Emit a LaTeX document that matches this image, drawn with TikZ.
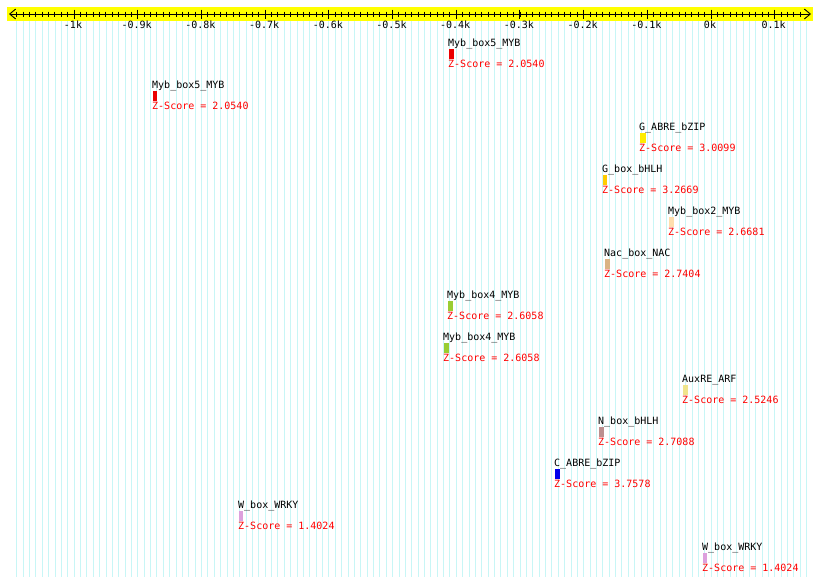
\documentclass[tikz,border=0pt]{standalone}
\usepackage{fontspec}
\setmonofont{DejaVu Sans Mono}
\usetikzlibrary{arrows.meta}
\definecolor{gridc}{RGB}{200,246,246}
\definecolor{bandc}{RGB}{255,255,0}
\definecolor{cmybfive}{RGB}{235,0,0}
\definecolor{cgabre}{RGB}{255,236,0}
\definecolor{cgbox}{RGB}{255,204,0}
\definecolor{cmybtwo}{RGB}{255,222,173}
\definecolor{cnac}{RGB}{218,180,132}
\definecolor{cmybfour}{RGB}{154,205,50}
\definecolor{cauxre}{RGB}{240,228,140}
\definecolor{cnbox}{RGB}{188,143,143}
\definecolor{ccabre}{RGB}{0,0,235}
\definecolor{cwbox}{RGB}{221,160,221}
\definecolor{zred}{RGB}{255,0,0}
\begin{document}
\begin{tikzpicture}[x=1pt,y=-1pt,
  lbl/.style={font=\ttfamily\fontsize{10}{10}\selectfont, inner sep=0pt, anchor=base west},
  zs/.style={lbl, text=zred},
  axlbl/.style={font=\ttfamily\fontsize{10}{10}\selectfont, inner sep=0pt, anchor=base},
  gridline/.style={gridc, line width=0.7pt},
  minortick/.style={black, line width=0.8pt},
  majortick/.style={black, line width=0.9pt}]
\useasboundingbox (0,0) rectangle (820,587);
\fill[white] (0,0) rectangle (820,587);
% grid
\foreach \v in {-1090,-1080,...,150}
  \draw[gridline] ({711+0.637*\v},21) -- ({711+0.637*\v},577);
% axis band
\fill[bandc] (7,7) rectangle (813,21);
\draw[line width=0.9pt, {Straight Barb[length=6pt,width=10pt]}-{Straight Barb[length=6pt,width=10pt]}] (9,14) -- (811,14);
\foreach \v in {-1090,-1080,...,140}
  \draw[minortick] ({711+0.637*\v},11.5) -- ({711+0.637*\v},16.5);
\foreach \v in {-1000,-900,...,100}
  \draw[majortick] ({711+0.637*\v},9.5) -- ({711+0.637*\v},18.5);
\foreach \v/\t in {-1000/-1k,-900/-0.9k,-800/-0.8k,-700/-0.7k,-600/-0.6k,-500/-0.5k,-400/-0.4k,-300/-0.3k,-200/-0.2k,-100/-0.1k,0/0k,100/0.1k}
  \node[axlbl] (ax\v) at ({711+0.637*\v-1},28.5) {\t};
% motifs
\foreach \i/\x/\w/\name/\col/\z in {
  0/449/5/Myb\_box5\_MYB/cmybfive/2.0540,
  1/153/4/Myb\_box5\_MYB/cmybfive/2.0540,
  2/640/5.5/G\_ABRE\_bZIP/cgabre/3.0099,
  3/603/4/G\_box\_bHLH/cgbox/3.2669,
  4/669/4.5/Myb\_box2\_MYB/cmybtwo/2.6681,
  5/605/4.5/Nac\_box\_NAC/cnac/2.7404,
  6/448/4.5/Myb\_box4\_MYB/cmybfour/2.6058,
  7/444/5/Myb\_box4\_MYB/cmybfour/2.6058,
  8/683/4.5/AuxRE\_ARF/cauxre/2.5246,
  9/599/4.5/N\_box\_bHLH/cnbox/2.7088,
  10/555/5/C\_ABRE\_bZIP/ccabre/3.7578,
  11/239/4/W\_box\_WRKY/cwbox/1.4024,
  12/703/4/W\_box\_WRKY/cwbox/1.4024}
{
  \pgfmathsetmacro{\T}{49+42*\i}
  \node[lbl] (name\i) at (\x-1,\T-2.5) {\name};
  \fill[\col] (\x,\T) rectangle ++(\w,10);
  \node[zs] (z\i) at (\x-1,\T+18.5) {Z-Score = \z};
}
\end{tikzpicture}
\end{document}
